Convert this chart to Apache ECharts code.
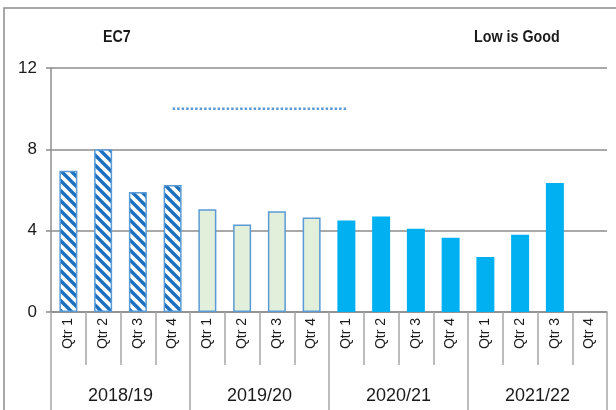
<!DOCTYPE html>
<html>
<head>
<meta charset="utf-8">
<script src="https://cdn.jsdelivr.net/npm/echarts@6/dist/echarts.min.js"></script>
<style>
  html, body { margin: 0; padding: 0; background: #fff; }
  #chart { width: 616px; height: 410px; }
</style>
</head>
<body>
<div id="chart"></div>
<script>
// 数据
const years = ['2018/19', '2019/20', '2020/21', '2021/22'];
const quarters = ['Qtr 1', 'Qtr 2', 'Qtr 3', 'Qtr 4'];
const values1819 = [6.95, 8.0, 5.9, 6.25];
const values1920 = [5.05, 4.3, 4.95, 4.65];
const values2021 = [4.5, 4.7, 4.1, 3.65];
const values2122 = [2.7, 3.8, 6.35, null];
const targetValue = 10;
const targetFrom = 3; // 目标线起止类目索引
const targetTo = 8;
const yTicks = [0, 4, 8, 12];

const FONT = '"Liberation Sans", Arial, sans-serif';

// 斜线填充
function makeHatch() {
  const s = 10;
  const c = document.createElement('canvas');
  c.width = s; c.height = s;
  const ctx = c.getContext('2d');
  ctx.fillStyle = '#ffffff';
  ctx.fillRect(0, 0, s, s);
  ctx.strokeStyle = '#1a6fbf';
  ctx.lineWidth = 3.4;
  [-s, 0, s].forEach(k => {
    ctx.beginPath();
    ctx.moveTo(-1, k - 1);
    ctx.lineTo(s + 1, s + k + 1);
    ctx.stroke();
  });
  return c;
}
const hatch = makeHatch();

const styles = [
  { color: { image: hatch, repeat: 'repeat' }, borderColor: '#5b9bd5', borderWidth: 1.5 },
  { color: '#e2efda', borderColor: '#5b9bd5', borderWidth: 1.5 },
  { color: '#00b0f0' },
  { color: '#00b0f0' }
];

const categories = [];
const barData = [];
[values1819, values1920, values2021, values2122].forEach((arr, yi) => {
  arr.forEach((v, qi) => {
    categories.push(quarters[qi]);
    barData.push({ value: v, itemStyle: styles[yi] });
  });
});
const targetData = categories.map((_, i) => (i >= targetFrom && i <= targetTo ? targetValue : null));

const chart = echarts.init(document.getElementById('chart'), null, { renderer: 'canvas' });

const option = {
  animation: false,
  backgroundColor: '#ffffff',
  grid: { left: 51, right: 9, top: 68, bottom: 98 },
  graphic: [
    {
      type: 'rect',
      shape: { x: 4, y: 8, width: 640, height: 440 },
      style: { fill: 'none', stroke: '#8c8c8c', lineWidth: 1.5 },
      silent: true
    },
    {
      type: 'text', x: 103, y: 29, scaleX: 0.84,
      style: { text: 'EC7', font: 'bold 17px ' + FONT, fill: '#1a1a1a' }
    },
    {
      type: 'text', x: 474, y: 29, scaleX: 0.84,
      style: { text: 'Low is Good', font: 'bold 17px ' + FONT, fill: '#1a1a1a' }
    }
  ],
  xAxis: [
    {
      type: 'category',
      data: categories,
      position: 'bottom',
      axisLine: { lineStyle: { color: '#8c8c8c', width: 1.5 } },
      axisTick: { show: true, interval: 0, length: 53, lineStyle: { color: '#a6a6a6', width: 1.5 } },
      axisLabel: {
        interval: 0, rotate: 90, margin: 6,
        fontFamily: FONT, fontSize: 14, color: '#1a1a1a'
      }
    },
    {
      type: 'category',
      data: years,
      position: 'bottom',
      offset: 53,
      axisLine: { show: false },
      axisTick: { show: true, interval: 0, length: 46, lineStyle: { color: '#a6a6a6', width: 1.5 } },
      axisLabel: { interval: 0, margin: 22, fontFamily: FONT, fontSize: 18, color: '#1a1a1a' }
    }
  ],
  yAxis: {
    type: 'value',
    min: yTicks[0],
    max: yTicks[yTicks.length - 1],
    interval: 4,
    axisLine: { show: true, lineStyle: { color: '#8c8c8c', width: 1.5 } },
    axisTick: { show: true, length: 5, lineStyle: { color: '#8c8c8c', width: 1.5 } },
    axisLabel: { margin: 14, fontFamily: FONT, fontSize: 17, color: '#1a1a1a' },
    splitLine: { lineStyle: { color: '#8c8c8c', width: 1.5 } }
  },
  series: [
    {
      type: 'bar',
      xAxisIndex: 0,
      barWidth: 18,
      data: barData
    },
    {
      type: 'line',
      xAxisIndex: 0,
      data: targetData,
      symbol: 'none',
      connectNulls: false,
      lineStyle: { color: '#5b9bd5', width: 2.5, type: [2.5, 2], cap: 'butt' }
    }
  ]
};

chart.setOption(option);
</script>
</body>
</html>
